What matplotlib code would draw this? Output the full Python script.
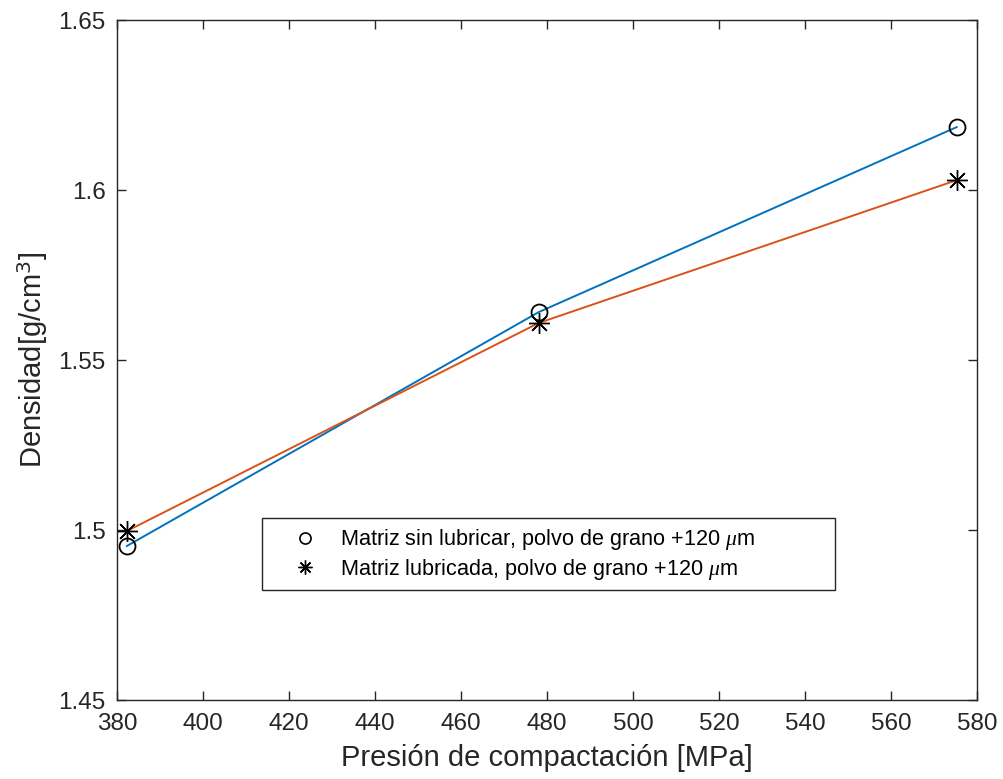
import matplotlib
matplotlib.use("Agg")
import matplotlib.pyplot as plt
from matplotlib.lines import Line2D
from matplotlib.patches import Rectangle

plt.rcParams['font.family'] = ['Liberation Sans', 'DejaVu Sans']
plt.rcParams['mathtext.fontset'] = 'custom'
plt.rcParams['mathtext.it'] = 'Liberation Serif:italic'

# datos
presion = [382.3, 478.1, 575.3]
dens_sin_lub = [1.4953, 1.5641, 1.6185]
dens_lub = [1.4997, 1.5609, 1.6029]

lbl_sin = r'Matriz sin lubricar, polvo de grano +120 $\mu$m'
lbl_lub = r'Matriz lubricada, polvo de grano +120 $\mu$m'

estrella = (8, 2, 0)  # asterisco tipo matlab (+ y x)

fig = plt.figure(figsize=(10.04, 7.79), dpi=100)
ax = fig.add_axes([0.1165, 0.1014, 0.8565, 0.8729])

ax.plot(presion, dens_sin_lub, color='#0072BD', lw=1.4)
ax.plot(presion, dens_lub, color='#D95319', lw=1.4)
ax.plot(presion, dens_sin_lub, 'o', mfc='none', mec='k', ms=11.5, mew=1.3)
ax.plot(presion, dens_lub, ls='none', marker=estrella, color='k', ms=15, mew=1.0)

ax.set_xlim(380, 580)
ax.set_ylim(1.45, 1.65)
ax.set_xticks(range(380, 581, 20))
ax.set_yticks([1.45, 1.5, 1.55, 1.6, 1.65])
ax.set_yticklabels(['1.45', '1.5', '1.55', '1.6', '1.65'])
ax.tick_params(direction='in', top=True, right=True, length=6.5, width=1.0,
               labelsize=17.5, colors='#262626')
ax.tick_params(axis='y', pad=8)
ax.tick_params(axis='x', pad=9)
for s in ax.spines.values():
    s.set_color('#262626')
    s.set_linewidth(1.0)

ax.set_xlabel('Presión de compactación [MPa]', fontsize=21, color='#262626', labelpad=7)
ax.set_ylabel('Densidad[g/cm$^3$]', fontsize=21, color='#262626', labelpad=6)

# caja de la leyenda (estilo matlab, con margen a la derecha)
ax.add_patch(Rectangle((0.1686, 0.1618), 0.6663, 0.1058, transform=ax.transAxes,
                       fill=True, fc='white', ec='#262626', lw=1.0, zorder=4))

handles = [Line2D([], [], ls='none', marker='o', mfc='none', mec='k', ms=8, mew=1.2),
           Line2D([], [], ls='none', marker=estrella, color='k', ms=10, mew=1.0)]
leg = ax.legend(handles, [lbl_sin, lbl_lub], loc='center left', bbox_to_anchor=(0.2035, 0.214),
                fontsize=15.6, frameon=False, borderpad=0, borderaxespad=0,
                handlelength=1.2, handletextpad=1.0, labelspacing=0.2)
leg.set_zorder(5)

fig.savefig('out.png', dpi=100)
